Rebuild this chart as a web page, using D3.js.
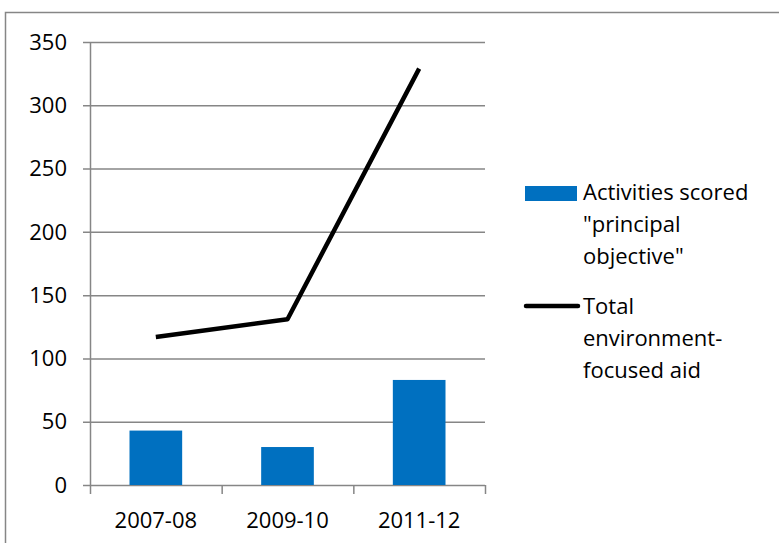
<!DOCTYPE html>
<html>
<head>
<meta charset="utf-8">
<script src="https://cdnjs.cloudflare.com/ajax/libs/d3/7.8.5/d3.min.js"></script>
<style>
  body { margin: 0; background: #fff; }
  svg text { font-family: "Open Sans", "Noto Sans", sans-serif; fill: #000; }
</style>
</head>
<body>
<svg id="chart" width="779" height="543"></svg>
<script>
// data
var periods = ["2007-08", "2009-10", "2011-12"];
var principalValues = [43, 30, 83];
var totalValues = [117, 131, 329];
var yTicks = [0, 50, 100, 150, 200, 250, 300, 350];
var legendLabels = [["Activities scored", "\"principal", "objective\""],
                    ["Total", "environment-", "focused aid"]];

var svg = d3.select("#chart");
var grey = "#868686";
var fontSize = "22px";

// outer chart frame (runs off the right and bottom)
svg.append("rect")
   .attr("x", 5.5).attr("y", 12.5)
   .attr("width", 800).attr("height", 600)
   .style("fill", "none").style("stroke", grey).style("stroke-width", 1.5);

var plotLeft = 90, plotRight = 485, plotTop = 42, plotBottom = 485;

var x = d3.scaleBand().domain(periods).range([plotLeft, plotRight])
          .paddingInner(0.6).paddingOuter(0.3);
var y = d3.scaleLinear().domain([0, 350]).range([plotBottom, plotTop]);

// gridlines
svg.append("g").selectAll("line.grid")
   .data(yTicks).enter()
   .append("line").attr("class", "grid")
   .attr("x1", plotLeft - 7).attr("x2", plotRight)
   .attr("y1", function(d) { return y(d) + 0.5; })
   .attr("y2", function(d) { return y(d) + 0.5; })
   .style("stroke", grey).style("stroke-width", 1.5);

// y axis line
svg.append("line")
   .attr("x1", plotLeft + 0.5).attr("x2", plotLeft + 0.5)
   .attr("y1", plotTop).attr("y2", plotBottom + 1)
   .style("stroke", grey).style("stroke-width", 1.5);

// y labels
svg.append("g").selectAll("text.ylab")
   .data(yTicks).enter()
   .append("text").attr("class", "ylab")
   .attr("x", 67).attr("y", function(d) { return y(d); })
   .attr("dy", "0.35em")
   .attr("text-anchor", "end")
   .style("font-size", fontSize)
   .text(function(d) { return d; });

// x ticks at band edges
var edges = periods.map(function(p) { return x(p) - x.step() * x.paddingInner() / 2; });
edges.push(plotRight);
svg.append("g").selectAll("line.xtick")
   .data(edges).enter()
   .append("line").attr("class", "xtick")
   .attr("x1", function(d) { return d + 0.5; }).attr("x2", function(d) { return d + 0.5; })
   .attr("y1", plotBottom).attr("y2", plotBottom + 9)
   .style("stroke", grey).style("stroke-width", 1.5);

// x labels
svg.append("g").selectAll("text.xlab")
   .data(periods).enter()
   .append("text").attr("class", "xlab")
   .attr("x", function(d) { return x(d) + x.bandwidth() / 2; })
   .attr("y", 520)
   .attr("dy", "0.35em")
   .attr("text-anchor", "middle")
   .style("font-size", fontSize)
   .text(function(d) { return d; });

// bars
svg.append("g").selectAll("rect.bar")
   .data(periods).enter()
   .append("rect").attr("class", "bar")
   .attr("x", function(d) { return x(d); })
   .attr("width", x.bandwidth())
   .attr("y", function(d, i) { return y(principalValues[i]); })
   .attr("height", function(d, i) { return plotBottom - y(principalValues[i]); })
   .style("fill", "#0070C0");

// line
var line = d3.line()
   .x(function(d, i) { return x(periods[i]) + x.bandwidth() / 2; })
   .y(function(d) { return y(d); });
svg.append("path")
   .datum(totalValues)
   .attr("d", line)
   .style("fill", "none").style("stroke", "#000")
   .style("stroke-width", 4.5).style("stroke-linejoin", "round");

// legend
var lg = svg.append("g");
lg.append("rect")
  .attr("x", 525).attr("y", 186).attr("width", 52).attr("height", 15)
  .style("fill", "#0070C0");
lg.append("line")
  .attr("x1", 526).attr("x2", 578).attr("y1", 306).attr("y2", 306)
  .style("stroke", "#000").style("stroke-width", 4.5).style("stroke-linecap", "round");

var legendTop = [192, 306];
legendLabels.forEach(function(lines, k) {
  lg.selectAll("text.leg" + k)
    .data(lines).enter()
    .append("text").attr("class", "leg" + k)
    .attr("x", 583)
    .attr("y", function(d, i) { return legendTop[k] + i * 32; })
    .attr("dy", "0.35em")
    .style("font-size", fontSize)
    .text(function(d) { return d; });
});
</script>
</body>
</html>
